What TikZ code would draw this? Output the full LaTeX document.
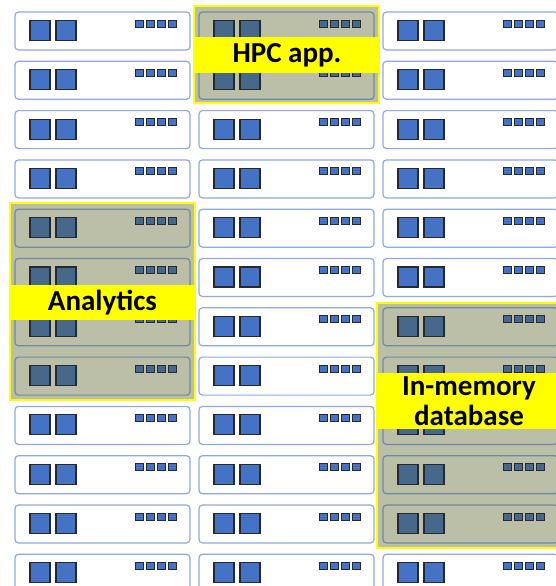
\documentclass[tikz,border=0pt]{standalone}
\usepackage{fontspec}
\setmainfont{Carlito}
\definecolor{rackline}{HTML}{8FAADC}
\definecolor{diskblue}{HTML}{4472C4}
\definecolor{diskedge}{HTML}{262A30}
\definecolor{dimfill}{HTML}{BBBFA8}
\definecolor{dimline}{HTML}{6E8AA0}
\definecolor{dimdisk}{HTML}{46688A}
\definecolor{bandyellow}{HTML}{FFFF00}

\begin{document}
\begin{tikzpicture}[x=1pt,y=-1pt,
    rack/.style={draw=rackline,fill=white,line width=1.2pt,rounded corners=3.5pt},
    disk/.style={draw=diskedge,fill=diskblue,line width=1.1pt},
    led/.style={draw=diskedge,fill=diskblue,line width=0.9pt},
    dimmed/.style={rack/.append style={draw=dimline,fill=dimfill},
                   disk/.append style={fill=dimdisk},
                   led/.append style={fill=dimdisk}},
    cluster/.style={draw=bandyellow,fill=dimfill,line width=1.4pt},
    band/.style={fill=bandyellow,inner sep=0pt,align=center,
                 font=\bfseries\fontsize{29}{29.5}\selectfont},
    server/.pic={
      \draw[rack] (0,0) rectangle (175,38);
      \foreach \dx in {15,41} \draw[disk] (\dx,8.5) rectangle ++(20,20);
      \foreach \dx in {120,131,142,153} \draw[led] (\dx,8) rectangle ++(8,7);
    }]
  \useasboundingbox (0,0) rectangle (556,586);
  \clip (0,0) rectangle (556,586);

  % three racks of twelve servers
  \foreach \c in {0,1,2} {
    \foreach \r in {0,...,11} {
      \pic at ({15+184*\c},{12+49.3*\r}) {server};
    }
  }

  % servers taken by the workloads
  \begin{scope}[dimmed]
    \draw[cluster] (194,6) rectangle (379,103);
    \foreach \r in {0,1} \pic at (199,{12+49.3*\r}) {server};

    \draw[cluster] (10,203) rectangle (195,400);
    \foreach \r in {4,...,7} \pic at (15,{12+49.3*\r}) {server};

    \draw[cluster] (377,303) rectangle (562,548);
    \foreach \r in {6,...,10} \pic at (383,{12+49.3*\r}) {server};
  \end{scope}

  % workload labels
  \node[band,minimum width=186pt,minimum height=36pt] (hpc) at (287,55) {HPC app.};
  \node[band,minimum width=185pt,minimum height=35pt] (analytics) at (102.5,302.5) {Analytics};
  \node[band,minimum width=184pt,minimum height=56pt] (imdb) at (469,401) {In-memory\\database};
\end{tikzpicture}
\end{document}
